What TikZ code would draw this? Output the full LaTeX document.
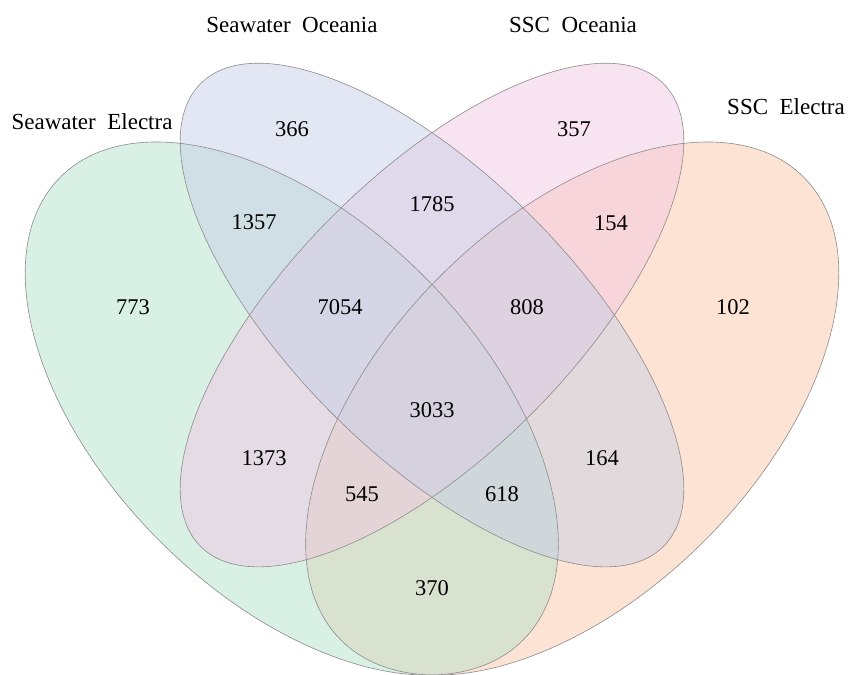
\documentclass[tikz,border=0pt]{standalone}
\usepackage{fontspec}
\setmainfont{Liberation Serif}
\definecolor{cgreen}{RGB}{179,225,203}
\definecolor{corange}{RGB}{251,199,167}
\definecolor{cblue}{RGB}{199,207,231}
\definecolor{cpink}{RGB}{241,199,227}
\definecolor{cline}{RGB}{140,140,140}
\tikzset{
  setfill/.style={fill=#1, fill opacity=0.5, draw=none},
  setline/.style={draw=cline, line width=0.6pt},
  lab/.style={font=\fontsize{23}{27}\selectfont, inner sep=0pt},
  num/.style={font=\fontsize{22.5}{27}\selectfont, inner sep=0pt}
}
\begin{document}
\begin{tikzpicture}[x=1pt,y=1pt]
\useasboundingbox (0,0) rectangle (852,675);
% fills
\fill[setfill=corange, rotate around={45:(572.25,266.45)}] (572.25,266.45) ellipse (327.25 and 187);
\fill[setfill=cgreen, rotate around={-45:(291.75,266.45)}] (291.75,266.45) ellipse (327.25 and 187);
\fill[setfill=cpink, rotate around={45:(432,359.95)}] (432,359.95) ellipse (327.25 and 140.25);
\fill[setfill=cblue, rotate around={-45:(432,359.95)}] (432,359.95) ellipse (327.25 and 140.25);
% outlines
\draw[setline, rotate around={45:(572.25,266.45)}] (572.25,266.45) ellipse (327.25 and 187);
\draw[setline, rotate around={-45:(291.75,266.45)}] (291.75,266.45) ellipse (327.25 and 187);
\draw[setline, rotate around={-45:(432,359.95)}] (432,359.95) ellipse (327.25 and 140.25);
\draw[setline, rotate around={45:(432,359.95)}] (432,359.95) ellipse (327.25 and 140.25);
% set labels
\node[lab] (lse) at (92,553) {Seawater\ \ Electra};
\node[lab] (lso) at (292,650) {Seawater\ \ Oceania};
\node[lab] (lco) at (573,650) {SSC\ \ Oceania};
\node[lab] (lce) at (786,568) {SSC\ \ Electra};
% numbers
\node[num] (n366) at (292,546) {366};
\node[num] (n357) at (574,546) {357};
\node[num] (n1357) at (254,453) {1357};
\node[num] (n1785) at (432,471) {1785};
\node[num] (n154) at (611,452) {154};
\node[num] (n773) at (133,368) {773};
\node[num] (n7054) at (340,368) {7054};
\node[num] (n808) at (527,368) {808};
\node[num] (n102) at (733,368) {102};
\node[num] (n3033) at (432,265) {3033};
\node[num] (n1373) at (264,217) {1373};
\node[num] (n164) at (602,217) {164};
\node[num] (n545) at (362,181) {545};
\node[num] (n618) at (502,181) {618};
\node[num] (n370) at (432,87) {370};
\end{tikzpicture}
\end{document}
